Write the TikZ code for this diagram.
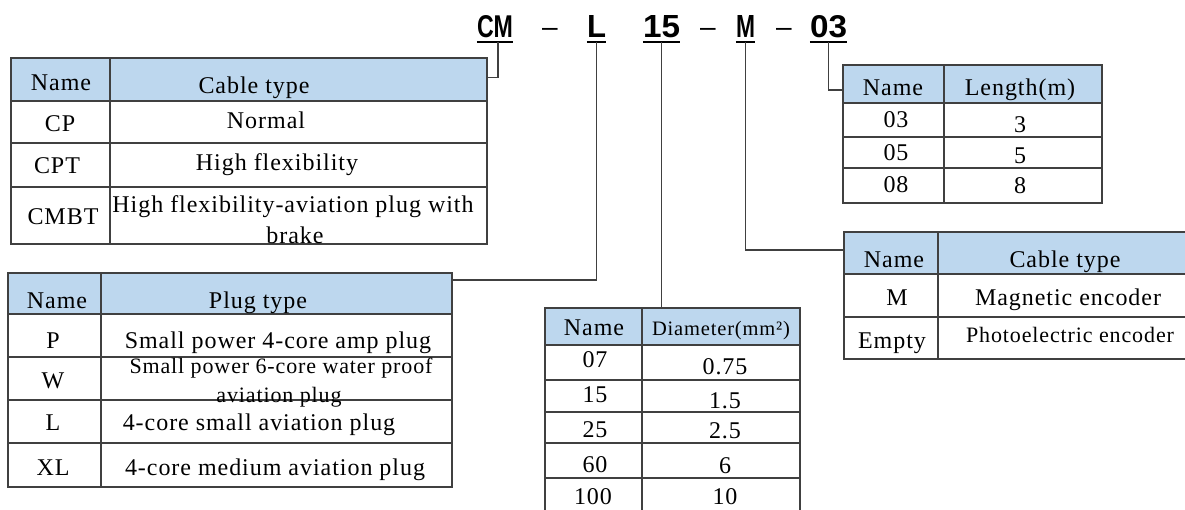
\documentclass[tikz,border=0pt]{standalone}
\usepackage{fontspec}
\usepackage{graphicx}
\setmainfont{Liberation Serif}[LetterSpace=4]
\newfontfamily\titlefont{Liberation Sans}
\definecolor{hdr}{HTML}{BDD7EE}
\definecolor{ln}{HTML}{404040}
\newcommand\mkcell[6]{%
  \pgfmathsetmacro\cw{#4-#2}\pgfmathsetmacro\ch{#5-#3}%
  \node[#6, minimum width=\cw pt, minimum height=\ch pt, anchor=north west] (#1) at (#2,#3) {};}
\tikzset{
  cellbox/.style={draw=ln, line width=1.4pt, fill=white, inner sep=0pt, outer sep=0pt},
  hdrbox/.style={cellbox, fill=hdr},
  txt/.style={anchor=base, inner sep=0pt, font=\fontsize{24}{26}\selectfont, text=black},
  stxt/.style={anchor=base, inner sep=0pt, font=\fontsize{22}{24}\selectfont, text=black},
  xstxt/.style={anchor=base, inner sep=0pt, font=\fontsize{20.5}{22}\selectfont, text=black},
  code/.style={anchor=base, inner sep=0pt, text depth=5pt, font=\titlefont\bfseries},
  dashnode/.style={inner sep=0pt, font=\titlefont\fontsize{28}{30}\selectfont},
  uline/.style={draw=black, line width=1.8pt},
  conn/.style={draw=ln, line width=1.4pt}
}
\begin{document}
\begin{tikzpicture}[x=1pt,y=-1pt]
\useasboundingbox (0,0) rectangle (1185,509);
\fill[white] (0,0) rectangle (1185,509);
\begin{scope}
\clip (0,0) rectangle (1185,509);
% ---------- title ----------
\node[code] (cm) at (495,37) {\resizebox{36pt}{22pt}{CM}};
\node[dashnode] (d1) at (550,32) {–};
\node[code] (lc) at (596.5,37) {\resizebox{19pt}{22pt}{L}};
\node[code] (c15) at (661.5,37) {\resizebox{37pt}{22pt}{15}};
\node[dashnode] (d2) at (708,32) {–};
\node[code] (mc) at (745.5,37) {\resizebox{19pt}{22pt}{M}};
\node[dashnode] (d3) at (784,32) {–};
\node[code] (c03) at (828.5,37) {\resizebox{37pt}{22pt}{03}};
\foreach \n in {cm,lc,c15,mc,c03}{\draw[uline] (\n.south west) -- (\n.south east);}
% ---------- table 1: cable type ----------
\mkcell{t1h1}{11}{58}{110}{101}{hdrbox}
\mkcell{t1h2}{110}{58}{487}{101}{hdrbox}
\mkcell{t1a1}{11}{101}{110}{143}{cellbox}
\mkcell{t1a2}{110}{101}{487}{143}{cellbox}
\mkcell{t1b1}{11}{143}{110}{187}{cellbox}
\mkcell{t1b2}{110}{143}{487}{187}{cellbox}
\mkcell{t1c1}{11}{187}{110}{244}{cellbox}
\mkcell{t1c2}{110}{187}{487}{244}{cellbox}
\node[txt] (x1) at (61,90) {Name};
\node[txt] (x2) at (254,93) {Cable type};
\node[txt] (x3) at (60,131) {CP};
\node[txt] (x4) at (266,128) {Normal};
\node[txt] (x5) at (57,173) {CPT};
\node[txt] (x6) at (277,170) {High flexibility};
\node[txt] (x7) at (63,224) {CMBT};
\node[txt] (x8) at (293,212) {High flexibility-aviation plug with};
\node[txt] (x9) at (295,243) {brake};
% ---------- table 2: plug type ----------
\mkcell{t2h1}{8}{273}{101}{314}{hdrbox}
\mkcell{t2h2}{101}{273}{452}{314}{hdrbox}
\mkcell{t2a1}{8}{314}{101}{357}{cellbox}
\mkcell{t2a2}{101}{314}{452}{357}{cellbox}
\mkcell{t2b1}{8}{357}{101}{400}{cellbox}
\mkcell{t2b2}{101}{357}{452}{400}{cellbox}
\mkcell{t2c1}{8}{400}{101}{443}{cellbox}
\mkcell{t2c2}{101}{400}{452}{443}{cellbox}
\mkcell{t2d1}{8}{443}{101}{487}{cellbox}
\mkcell{t2d2}{101}{443}{452}{487}{cellbox}
\node[txt] (y1) at (57,308) {Name};
\node[txt] (y2) at (258,308) {Plug type};
\node[txt] (y3) at (53,348) {P};
\node[txt] (y4) at (278,348) {Small power 4-core amp plug};
\node[txt] (y5) at (53,388) {W};
\node[stxt] (y6) at (281,373) {Small power 6-core water proof};
\node[stxt] (y7) at (279,402) {aviation plug};
\node[txt] (y8) at (53,430) {L};
\node[txt] (y9) at (259,430) {4-core small aviation plug};
\node[txt] (y10) at (53,475) {XL};
\node[txt] (y11) at (275,475) {4-core medium aviation plug};
% ---------- table 3: diameter ----------
\mkcell{t3h1}{545}{308}{642}{345}{hdrbox}
\mkcell{t3h2}{642}{308}{800}{345}{hdrbox}
\mkcell{t3a1}{545}{345}{642}{380}{cellbox}
\mkcell{t3a2}{642}{345}{800}{380}{cellbox}
\mkcell{t3b1}{545}{380}{642}{412}{cellbox}
\mkcell{t3b2}{642}{380}{800}{412}{cellbox}
\mkcell{t3c1}{545}{412}{642}{443}{cellbox}
\mkcell{t3c2}{642}{412}{800}{443}{cellbox}
\mkcell{t3d1}{545}{443}{642}{478}{cellbox}
\mkcell{t3d2}{642}{443}{800}{478}{cellbox}
\mkcell{t3e1}{545}{478}{642}{525}{cellbox}
\mkcell{t3e2}{642}{478}{800}{525}{cellbox}
\node[txt] (z1) at (594,335) {Name};
\node[xstxt] (z2) at (721,335) {Diameter(mm²)};
\node[txt] (z3) at (595,367) {07};
\node[txt] (z4) at (725,374) {0.75};
\node[txt] (z5) at (595,402) {15};
\node[txt] (z6) at (725,408) {1.5};
\node[txt] (z7) at (595,437) {25};
\node[txt] (z8) at (725,438) {2.5};
\node[txt] (z9) at (595,472) {60};
\node[txt] (z10) at (725,473) {6};
\node[txt] (z11) at (593,504) {100};
\node[txt] (z12) at (725,504) {10};
% ---------- table 4: length ----------
\mkcell{t4h1}{843}{65}{944}{103}{hdrbox}
\mkcell{t4h2}{944}{65}{1102}{103}{hdrbox}
\mkcell{t4a1}{843}{103}{944}{137}{cellbox}
\mkcell{t4a2}{944}{103}{1102}{137}{cellbox}
\mkcell{t4b1}{843}{137}{944}{168}{cellbox}
\mkcell{t4b2}{944}{137}{1102}{168}{cellbox}
\mkcell{t4c1}{843}{168}{944}{203}{cellbox}
\mkcell{t4c2}{944}{168}{1102}{203}{cellbox}
\node[txt] (w1) at (893,95) {Name};
\node[txt] (w2) at (1020,95) {Length(m)};
\node[txt] (w3) at (896,127) {03};
\node[txt] (w4) at (1020,132) {3};
\node[txt] (w5) at (896,160) {05};
\node[txt] (w6) at (1020,163) {5};
\node[txt] (w7) at (896,192) {08};
\node[txt] (w8) at (1020,193) {8};
% ---------- table 5: encoder ----------
\mkcell{t5h1}{844}{232}{938}{274}{hdrbox}
\mkcell{t5h2}{938}{232}{1200}{274}{hdrbox}
\mkcell{t5a1}{844}{274}{938}{317}{cellbox}
\mkcell{t5a2}{938}{274}{1200}{317}{cellbox}
\mkcell{t5b1}{844}{317}{938}{359}{cellbox}
\mkcell{t5b2}{938}{317}{1200}{359}{cellbox}
\node[txt] (v1) at (894,267) {Name};
\node[txt] (v2) at (1065,267) {Cable type};
\node[txt] (v3) at (897,305) {M};
\node[txt] (v4) at (1068,305) {Magnetic encoder};
\node[txt] (v5) at (892,348) {Empty};
\node[stxt] (v6) at (1070,342) {Photoelectric encoder};
% ---------- connectors ----------
\draw[conn] ([xshift=3pt]cm.south) |- ([yshift=2pt]t1h2.east);
\draw[conn] (lc.south) |- ([yshift=-7pt]t2h2.north east);
\draw[conn] (c15.south) -- (c15.south |- t3h2.north);
\draw[conn] (mc.south) |- ([yshift=3pt]t5h1.west);
\draw[conn] (c03.south) |- ([yshift=-25pt]t4h1.north west);
\end{scope}
\end{tikzpicture}
\end{document}
